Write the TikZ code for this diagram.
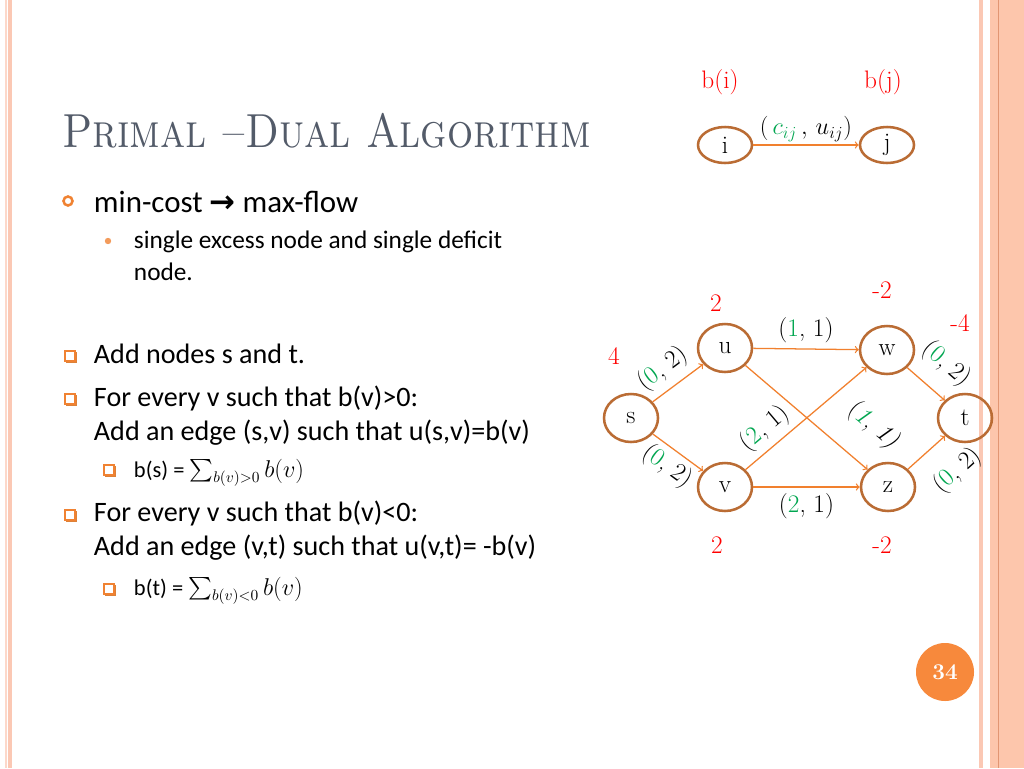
\documentclass[tikz,border=0pt]{standalone}
\usepackage{amsmath, amssymb}
\usepackage{fontspec}
\setsansfont{Carlito}
\newfontfamily\symfont{DejaVu Sans}
\usetikzlibrary{arrows}
\usetikzlibrary{shapes.geometric}
\definecolor{edgeor}{RGB}{241,128,46}
\definecolor{nodebr}{RGB}{186,108,52}
\definecolor{gr}{RGB}{0,166,80}
\definecolor{ttl}{RGB}{83,91,105}
\definecolor{bulor}{RGB}{240,130,50}
\definecolor{stripe}{RGB}{251,200,180}
\definecolor{peach}{RGB}{253,198,172}
\definecolor{peachdk}{RGB}{226,150,115}
\definecolor{pgor}{RGB}{247,137,60}
\tikzset{nd/.style={ellipse, draw=nodebr, line width=1.8pt, inner sep=0pt, minimum width=13.5mm, minimum height=12mm, font=\fontsize{18}{18}\selectfont}}
\tikzset{ed/.style={draw=edgeor, line width=0.9pt}}
\tikzset{lb/.style={font=\fontsize{18}{18}\selectfont, inner sep=2pt}}
\tikzset{bv/.style={text=red, font=\fontsize{18}{18}\selectfont}}
\tikzset{tx/.style={anchor=base west, font=\sffamily\fontsize{20}{24}\selectfont}}
\tikzset{sx/.style={anchor=base west, font=\sffamily\fontsize{18}{22}\selectfont}}
\tikzset{mx/.style={anchor=base west, font=\sffamily\fontsize{16}{20}\selectfont}}
\newcommand\sqbul[2]{%
  \fill[bulor!60!brown] (#1-4,#2-4) rectangle (#1+7,#2+7);
  \draw[bulor, line width=1.3pt, fill=white] (#1-5,#2-5) rectangle (#1+5,#2+5);}

\begin{document}
\begin{tikzpicture}[x=0.25mm, y=-0.25mm]
  \useasboundingbox (0,0) rectangle (1024,768);
  \fill[white] (0,0) rectangle (1024,768);
  % borders
  \fill[stripe!70] (5,0) rectangle (6.5,768);
  \fill[stripe] (8,0) rectangle (12,768);
  \fill[stripe] (979,0) rectangle (983,768);
  \fill[peach] (990,0) rectangle (1024,768);
  \draw[peachdk, line width=0.6pt] (998.5,0) -- (998.5,768);

  \node[anchor=base west, inner sep=0pt, text=ttl, font=\fontsize{34}{34}\selectfont\scshape] (title) at (62,147) {\scalebox{0.86}[1]{Primal --Dual Algorithm}};

  % bullets
  \draw[bulor, line width=1.8pt] (68,201) circle (4.5);
  \node[tx, font=\sffamily\fontsize{22}{24}\selectfont] (l1) at (89,212) {min-cost {\symfont\bfseries →} max-flow};
  \fill[bulor!80] (108,241) circle (3.2);
  \node[sx] (l2) at (129,248) {single excess node and single deficit};
  \node[sx] (l3) at (129,280) {node.};
  \sqbul{70}{356}
  \node[tx] (l4) at (89,363) {Add nodes s and t.};
  \sqbul{70}{399}
  \node[tx] (l5) at (89,406) {For every v such that b(v)>0:};
  \node[tx] (l6) at (89,440) {Add an edge (s,v) such that u(s,v)=b(v)};
  \sqbul{109}{470}
  \node[mx] (l7) at (129,477) {b(s) = $\sum_{b(v)>0} b(v)$};
  \sqbul{70}{515}
  \node[tx] (l8) at (89,521) {For every v such that b(v)<0:};
  \node[tx] (l9) at (89,555) {Add an edge (v,t) such that u(v,t)= -b(v)};
  \sqbul{109}{589}
  \node[mx] (l10) at (129,595) {b(t) = $\sum_{b(v)<0} b(v)$};

  % legend
  \node[nd, minimum height=9mm] (i) at (725,145) {i};
  \node[nd, minimum height=9mm] (j) at (887,145) {j}
    edge [<-, ed] node [lb, above] {$(\,\textcolor{gr}{c_{ij}}\,,\,u_{ij})$} (i);
  \node[bv] (bi) at (720,82) {b(i)};
  \node[bv] (bj) at (883,82) {b(j)};

  % network
  \node[nd] (s) at (631,418) {s};
  \node[nd] (u) at (725,348) {u}
    edge [<-, ed] node [lb, sloped, above=3pt, pos=0.56] {(\textcolor{gr}{0}, 2)} (s);
  \node[nd] (v) at (725,487) {v}
    edge [<-, ed] node [lb, sloped, below=1pt, pos=0.5] {(\textcolor{gr}{0}, 2)} (s);
  \node[nd] (w) at (887,350) {w}
    edge [<-, ed] node [lb, above=2pt] {(\textcolor{gr}{1}, 1)} (u)
    edge [<-, ed] node [lb, sloped, above=2pt, pos=0.74] {(\textcolor{gr}{2}, 1)} (v);
  \node[nd] (z) at (888,487) {z}
    edge [<-, ed] node [lb, below=2pt] {(\textcolor{gr}{2}, 1)} (v)
    edge [<-, ed] node [lb, sloped, above=15pt, pos=0.15] {(\textcolor{gr}{\itshape 1}, \itshape 1)} (u);
  \node[nd] (t) at (965,418) {t}
    edge [<-, ed] node [lb, sloped, above=9pt, pos=0.45] {(\textcolor{gr}{0}, 2)} (w)
    edge [<-, ed] node [lb, sloped, below=13pt, pos=0.28] {(\textcolor{gr}{0}, 2)} (z);
  \node[bv] (bs) at (614,356) {4};
  \node[bv] (bu) at (716,303) {2};
  \node[bv] (bw) at (882,290) {-2};
  \node[bv] (bt) at (960,323) {-4};
  \node[bv] (bvv) at (717,545) {2};
  \node[bv] (bz) at (882,545) {-2};

  \node[circle, fill=pgor, minimum size=14.5mm, text=white, font=\fontsize{16}{16}\selectfont\bfseries] (pg) at (945,672) {34};
\end{tikzpicture}
\end{document}
